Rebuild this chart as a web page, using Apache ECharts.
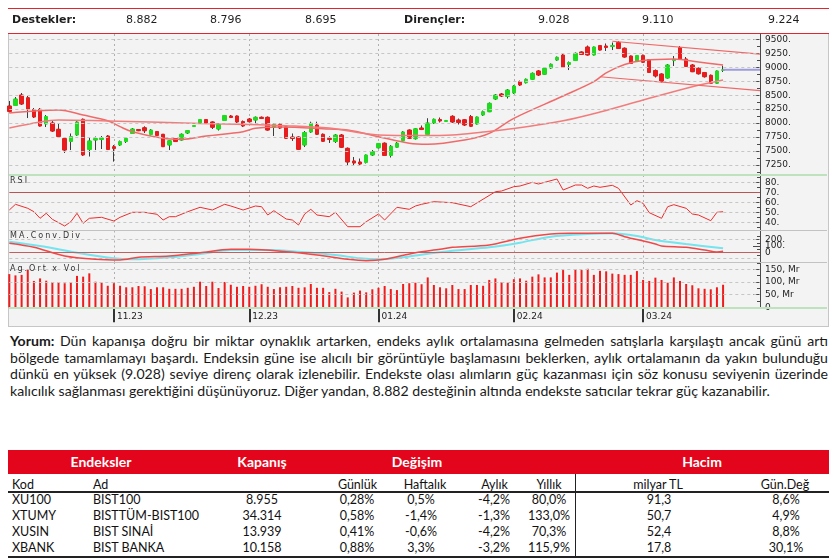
<!DOCTYPE html>
<html lang="tr">
<head>
<meta charset="utf-8">
<title>BIST100</title>
<script src="https://cdn.jsdelivr.net/npm/echarts@6/dist/echarts.min.js"></script>
<style>
html,body{margin:0;padding:0;}
body{width:840px;height:558px;position:relative;overflow:hidden;background:#ffffff;}
.hl{position:absolute;left:8px;width:821px;height:1px;background:#e0262e;}
.ht{position:absolute;top:13px;line-height:14px;font-family:"DejaVu Sans",sans-serif;font-size:11px;color:#1e1e1e;white-space:nowrap;}
.ht.b{font-weight:bold;}
#panel{position:absolute;left:8px;top:34px;width:819px;height:292px;background:#f3f3f3;border-left:1px solid #c6c6c6;border-right:1px solid #c6c6c6;border-bottom:1px solid #c6c6c6;}
#chart{position:absolute;left:0;top:0;width:840px;height:330px;}
.sep{position:absolute;left:9px;width:818px;}
.ptitle{position:absolute;left:10px;font-family:"DejaVu Sans",sans-serif;font-size:8px;letter-spacing:2px;color:#333;line-height:10px;white-space:nowrap;}
#para{position:absolute;left:10px;top:333px;width:818px;font-family:Lato,"Liberation Sans",sans-serif;color:#1a1a1a;font-size:14px;}
.pl{height:16.6px;line-height:16.6px;text-align:justify;text-align-last:justify;}
.pl.last{text-align:left;text-align-last:left;}
#para.measure .pl{white-space:nowrap;text-align:left;text-align-last:left;}
.cell{position:absolute;line-height:16px;height:16px;white-space:nowrap;font-family:Lato,"Liberation Sans",sans-serif;font-size:12.5px;color:#111;}
.th{color:#fff;font-weight:bold;font-size:14px;line-height:24px;height:24px;}
.rule{position:absolute;background:#222;}
</style>
</head>
<body>
<div class="hl" style="top:8px"></div>
<div class="hl" style="top:33px"></div>
<div id="panel"></div>
<div id="chart"></div>
<div class="sep" style="top:174px;height:2px;background:#bde2bd"></div>
<div class="sep" style="top:230px;height:1px;background:#c2c2c2"></div>
<div class="sep" style="top:262px;height:1px;background:#c2c2c2"></div>
<div class="sep" style="top:307px;height:2px;background:#bde2bd"></div>
<div class="ptitle" style="top:176px">RSI</div>
<div class="ptitle" style="top:231px">MA.Conv.Div</div>
<div class="ptitle" style="top:264px">Ag.Ort x Vol</div>
<div id="para"></div>
<script>
// ---------- header levels ----------
const supportLabel = 'Destekler:';
const supports = ['8.882', '8.796', '8.695'];
const resistanceLabel = 'Dirençler:';
const resistances = ['9.028', '9.110', '9.224'];

// ---------- trading days (categories) ----------
const daysOct23 = [9,10,11,12,13,16,17,18,19,20,23,24,25,26,27,30,31];
const daysNov23 = [1,2,3,6,7,8,9,10,13,14,15,16,17,20,21,22,23,24,27,28,29,30];
const daysDec23 = [1,4,5,6,7,8,11,12,13,14,15,18,19,20,21,22,25,26,27,28,29];
const daysJan24 = [2,3,4,5,8,9,10,11,12,15,16,17,18,19,22,23,24,25,26,29,30,31];
const daysFeb24 = [1,2,5,6,7,8,9,12,13,14,15,16,19,20,21,22,23,26,27,28,29];
const daysMar24 = [1,4,5,6,7,8,11,12,13,14,15,18,19,20,21,22,25,26,27,28];

// ---------- OHLC (BIST100) ----------
const opens = [8306,8315,8503,8455,8243,8247,7984,8002,7889,7724, 7671,7787,8068,7527,7697,7706,7769,7578,7608,7670,
 7814,7885,7917,7796,7850,7800,7608,7724,7697,7823, 7939,8002,8064,8020,7894,8047,8127,8127,8029,8073,
 8055,8104,8104,7925,7979,7935,7751,7751,7608,7841, 7966,7800,7728,7670,7787,7549,7322,7304,7295,7429,
 7558,7640,7420,7568,7684,7876,7720,7912,7796,8002, 8064,8029,8122,8055,8060,8118,7984,8145,8204,8431,
 8521,8476,8539,8741,8723,8784,8933,8874,8986,9129, 9219,9049,9120,9273,9362,9219,9389,9380,9371,9443,
 9340,9201,9103,9210,9138,8942,8879,8807,9120,9353, 9147,9040,8981,8906,8856,8713,8945];
const closes = [8208,8431,8342,8252,8109,7948,8118,7858,7760,7518, 7760,8020,7429,7680,7724,7733,7527,7545,7670,7728,
 7894,7864,7863,7876,7778,7578,7684,7670,7800,7867, 7957,8064,7993,7925,7979,8136,8100,8020,7948,8025,
 8104,8082,7876,7979,7912,7728,7724,7530,7832,7996, 7800,7674,7706,7787,7567,7304,7286,7268,7429,7491,
 7635,7420,7585,7640,7841,7728,7898,7885,8002,8068, 8038,8047,8020,8011,7966,7943,8109,8204,8354,8503,
 8485,8592,8664,8682,8784,8891,8861,8981,9053,9178, 9004,9085,9249,9228,9219,9362,9308,9353,9389,9335,
 9183,9067,9210,9089,8906,8843,8744,9040,9138,9147, 9013,8920,8883,8830,8713,8933,8955];
const lows = [8190,8306,8324,8091,8091,7939,7930,7841,7733,7465, 7518,7769,7411,7402,7518,7536,7518,7310,7590,7644,
 7805,7858,7823,7778,7769,7572,7518,7662,7688,7805, 7930,7984,7984,7894,7867,8038,8091,8002,7930,8011,
 7996,8073,7867,7769,7894,7715,7680,7518,7572,7823, 7787,7662,7644,7644,7554,7241,7232,7232,7277,7411,
 7545,7411,7384,7554,7671,7715,7706,7876,7778,7984, 8011,8020,8002,7975,7948,7930,7975,8127,8199,8413,
 8467,8440,8521,8664,8709,8771,8843,8861,8968,9112, 8995,8950,9112,9219,9210,9210,9300,9291,9308,9326,
 9174,9058,9094,9076,8897,8816,8727,8798,9022,9138, 9004,8915,8870,8816,8700,8700,8915];
const highs = [8396,8467,8539,8485,8270,8270,8145,8038,7984,7751, 7814,8038,8082,7751,7760,7769,7787,7608,7688,7751,
 7912,7894,7943,7894,7858,7805,7697,7733,7814,7876, 7966,8073,8073,8029,7993,8145,8145,8136,8047,8091,
 8118,8118,8118,7993,8002,7957,7814,7760,7858,8025, 8025,7814,7764,7805,7805,7563,7393,7366,7438,7518,
 7644,7653,7608,7662,7858,7885,7912,7957,8087,8082, 8100,8055,8140,8082,8073,8145,8118,8225,8369,8521,
 8539,8610,8682,8762,8798,8906,8950,8995,9067,9192, 9237,9103,9264,9282,9389,9371,9398,9425,9443,9470,
 9353,9210,9219,9228,9147,8960,8888,9058,9201,9380, 9183,9058,8995,8915,8870,8942,9028];

// ---------- moving averages, trend lines (read points: [day index, value]) ----------
const fastMA = [[0,8181],[8,8234],[12,8145],[16,8043],[18,7936],[20,7846],[25,7728],[28,7710],[32,7769],[38,7846],
 [40,7907],[44,7930],[52,7894],[55,7876],[60,7757],[65,7638],[68,7620],[74,7697],[78,7817],[82,8086],
 [90,8485],[95,8741],[97,8900],[100,9049],[103,9120],[108,9147],[112,9094],[116,9040]];
const slowMA = [[0,7912],[5,8020],[8,8055],[16,8038],[23,8020],[31,7993],[39,7975],[44,7957],[52,7912],[60,7787],
 [67,7778],[72,7787],[77,7841],[82,7903],[90,8043],[96,8199],[103,8413],[111,8652],[116,8771]];
const upperTrend = [[98,9465],[122,9235]];
const lowerTrend = [[96,8830],[122,8580]];
const lastPrice = [[116,8955],[122,8955]];

// ---------- RSI ----------
const rsi = [[0,52.7],[1,58.4],[3,54.4],[4,51],[5,44.4],[6,49.4],[7,43.4],[9,36.7],[10,41],[11,49.4],[12,39.4],[13,44.4],
 [15,45.4],[17,41.7],[18,45.4],[20,50.4],[22,50.4],[24,48.4],[25,42.7],[26,46],[27,46],[29,51],[31,55.4],[33,52.7],
 [35,58.4],[36,56.7],[38,52.7],[40,56.7],[41,56],[42,47.7],[43,52],[45,43.7],[46,42.7],[47,37.7],[48,48.7],[49,53.4],
 [50,47.7],[52,46],[53,50.4],[55,36],[57,36],[58,41],[60,48.7],[61,42.7],[63,55.4],[65,53.4],[66,56.7],[67,58.4],
 [69,61],[72,60],[75,56],[79,71],[80,71.7],[82,76],[83,76.7],[85,80.4],[86,78.7],[89,83.7],[90,72.7],[92,77.7],
 [93,77.7],[94,74.4],[95,76.7],[96,75.4],[98,77.4],[99,74.4],[101,57.7],[102,62],[103,59.4],[104,50],[106,44.4],
 [107,56],[108,58],[110,54.4],[111,48.7],[112,47.7],[114,42],[115,50.4],[116,51]];

// ---------- MACD ----------
const macd = [[0,142],[4,79],[9,-58],[14,-111],[18,-122],[21,-79],[26,-58],[31,-6],[36,47],[39,47],[45,9],[50,-43],
 [55,-111],[58,-133],[61,-111],[66,-6],[70,47],[72,79],[78,115],[83,221],[88,289],[91,300],[98,300],[100,247],
 [105,131],[106,100],[110,79],[113,36],[115,5],[116,18]];
const macdSignal = [[0,167],[5,100],[11,-6],[17,-95],[20,-111],[26,-79],[31,-27],[36,36],[42,36],[47,9],[53,-43],
 [57,-95],[60,-111],[64,-79],[66,-50],[72,25],[78,79],[83,152],[88,247],[94,289],[98,300],[102,258],[105,194],
 [110,131],[116,63]];

// ---------- volume (Mr) ----------
const volumes = [131,126,128,150,104,114,105,99,99,95, 97,124,121,134,101,97,85,95,85,79,
 79,84,83,72,79,79,73,73,73,77, 81,101,84,101,76,100,89,81,84,81,
 85,91,81,72,79,81,84,77,79,92, 77,77,60,73,62,39,58,66,59,71,
 77,84,72,68,92,95,97,91,118,88, 79,75,88,72,72,88,88,85,108,114,
 99,97,111,114,105,121,130,118,118,137, 147,128,150,147,152,128,144,142,133,131,
 128,128,143,108,104,117,108,97,118,104, 92,87,75,73,71,79,89];

// ---------- tick labels ----------
const mainTicks = [7250,7500,7750,8000,8250,8500,8750,9000,9250,9500];
const mainMinor = [7125,7375,7625,7875,8125,8375,8625,8875,9125,9375];
const rsiTicks = [40,50,60,70,80];
const rsiMinor = [35,45,55,65,75,85];
const rsiGrid = [40,50,60,80];
const rsiLevel = 70;
const macdTicks = [-100,0,100,200,300];
const macdMinor = [-50,50,150,250];
const macdGrid = [-100,200];
const volTicks = [0,50,100,150];
const volMinor = [25,75,125,175];
const volGrid = [50,100,150];

// ---------- table ----------
const tblCodes = ['XU100','XTUMY','XUSIN','XBANK'];
const tblNames = ['BIST100','BISTTÜM-BIST100','BIST SINAİ','BIST BANKA'];
const tblClose = ['8.955','34.314','13.939','10.158'];
const tblDaily = ['0,28%','0,58%','0,41%','0,88%'];
const tblWeekly = ['0,5%','-1,4%','-0,6%','3,3%'];
const tblMonthly = ['-4,2%','-1,3%','-4,2%','-3,2%'];
const tblYearly = ['80,0%','133,0%','70,3%','115,9%'];
const tblVolume = ['91,3','50,7','52,4','17,8'];
const tblVolShare = ['8,6%','4,9%','8,8%','30,1%'];

// ---------- comment ----------
const commentLines = [
 '<b>Yorum:</b> Dün kapanışa doğru bir miktar oynaklık artarken, endeks aylık ortalamasına gelmeden satışlarla karşılaştı ancak günü artı',
 'bölgede tamamlamayı başardı. Endeksin güne ise alıcılı bir görüntüyle başlamasını beklerken, aylık ortalamanın da yakın bulunduğu',
 'dünkü en yüksek (9.028) seviye direnç olarak izlenebilir. Endekste olası alımların güç kazanması için söz konusu seviyenin üzerinde',
 'kalıcılık sağlanması gerektiğini düşünüyoruz. Diğer yandan, 8.882 desteğinin altında endekste satıcılar tekrar güç kazanabilir.'
];

// ================= header =================
function addText(cls, txt, x) {
  const d = document.createElement('div');
  d.className = cls; d.textContent = txt; d.style.left = x + 'px';
  document.body.appendChild(d);
}
addText('ht b', supportLabel, 12);
[126, 210, 305].forEach((x, i) => addText('ht', supports[i], x));
addText('ht b', resistanceLabel, 404);
[538, 642, 768].forEach((x, i) => addText('ht', resistances[i], x));

// ================= comment paragraph =================
const para = document.getElementById('para');
para.classList.add('measure');
commentLines.forEach((h, i) => {
  const d = document.createElement('div');
  d.className = 'pl' + (i === commentLines.length - 1 ? ' last' : '');
  d.innerHTML = '<span>' + h + '</span>';
  para.appendChild(d);
});
(function fit() {
  const spans = para.querySelectorAll('span');
  const w = Array.from(spans).map(s => s.getBoundingClientRect().width);
  const base = 14;
  let fs = base * 760 / w[w.length - 1];
  const maxw = Math.max.apply(null, w.slice(0, -1));
  fs = Math.min(fs, base * 814 / maxw);
  para.style.fontSize = fs.toFixed(2) + 'px';
  para.classList.remove('measure');
})();

// ================= table =================
function cell(txt, x, yc, align, cls) {
  const d = document.createElement('div');
  d.className = 'cell' + (cls ? ' ' + cls : '');
  d.textContent = txt;
  d.style.top = (yc - (cls === 'th' ? 12 : 8)) + 'px';
  d.style.left = x + 'px';
  if (align === 'center') d.style.transform = 'translateX(-50%)';
  document.body.appendChild(d);
}
function rule(l, t, w, h, color) {
  const d = document.createElement('div');
  d.className = 'rule';
  Object.assign(d.style, {left: l + 'px', top: t + 'px', width: w + 'px', height: h + 'px'});
  if (color) d.style.background = color;
  document.body.appendChild(d);
}
rule(8, 450, 821, 24, '#e3051b');
cell('Endeksler', 101, 462, 'center', 'th');
cell('Kapanış', 262, 462, 'center', 'th');
cell('Değişim', 417, 462, 'center', 'th');
cell('Hacim', 702, 462, 'center', 'th');
cell('Kod', 12, 484.5, 'left');
cell('Ad', 93, 484.5, 'left');
cell('Günlük', 357.5, 484.5, 'center');
cell('Haftalık', 425, 484.5, 'center');
cell('Aylık', 494.5, 484.5, 'center');
cell('Yıllık', 549, 484.5, 'center');
cell('milyar TL', 658, 484.5, 'center');
cell('Gün.Değ', 785, 484.5, 'center');
rule(8, 491, 821, 2);
rule(575, 474, 1, 83);
rule(8, 556, 821, 2);
const rowY = [500, 516, 532, 548];
rowY.forEach((y, i) => {
  cell(tblCodes[i], 12, y, 'left');
  cell(tblNames[i], 93, y, 'left');
  cell(tblClose[i], 262, y, 'center');
  cell(tblDaily[i], 357, y, 'center');
  cell(tblWeekly[i], 421, y, 'center');
  cell(tblMonthly[i], 494, y, 'center');
  cell(tblYearly[i], 549, y, 'center');
  cell(tblVolume[i], 659, y, 'center');
  cell(tblVolShare[i], 786, y, 'center');
});

// ================= chart =================
const pad = n => (n < 10 ? '0' : '') + n;
const monthGroups = [['10','23',daysOct23],['11','23',daysNov23],['12','23',daysDec23],
                     ['01','24',daysJan24],['02','24',daysFeb24],['03','24',daysMar24]];
const categories = [];
monthGroups.forEach(([m, y, days]) => days.forEach(d => categories.push(pad(d) + '.' + m + '.' + y)));
const monthStart = (idx) => idx > 0 && categories[idx].slice(3, 5) !== categories[idx - 1].slice(3, 5);

const candleData = opens.map((o, i) => [o, closes[i], lows[i], highs[i]]);
const bodyData = opens.map((o, i) => [o, closes[i], Math.min(o, closes[i]), Math.max(o, closes[i])]);

const grids = [
  {top: 34, height: 140},
  {top: 175, height: 55},
  {top: 230.5, height: 31.5},
  {top: 262, height: 45.3}
].map(g => Object.assign({left: 9.3, right: 80, show: false, containLabel: false, outerBoundsMode: 'none'}, g));

const xAxes = [0, 1, 2, 3].map(g => ({
  type: 'category', gridIndex: g, data: categories, boundaryGap: false,
  axisLine: {show: false},
  axisTick: {show: g === 3, interval: monthStart, alignWithLabel: true, length: 15, inside: false,
             lineStyle: {color: '#333', width: 2}},
  axisLabel: {show: g === 3, interval: monthStart, formatter: v => v.slice(3), align: 'left', margin: 5,
              padding: [0, 0, 0, 3], color: '#222', fontSize: 9, fontFamily: 'DejaVu Sans'},
  splitLine: {show: true, interval: monthStart, lineStyle: {color: '#b0b0b0', width: 1, type: [2, 3]}}
}));

function yPair(g, min, max, major, minor, fmt) {
  return [{
    type: 'value', gridIndex: g, position: 'right', min: min, max: max,
    axisLine: {show: true, onZero: false, lineStyle: {color: '#4a4a4a', width: 1}},
    axisTick: {show: true, inside: true, length: 7, customValues: major, lineStyle: {color: '#4a4a4a'}},
    axisLabel: {show: true, customValues: major, formatter: fmt, margin: 5, color: '#222', fontSize: 9,
                fontFamily: 'DejaVu Sans', hideOverlap: false},
    splitLine: {show: false}, minorTick: {show: false}, minorSplitLine: {show: false}
  }, {
    type: 'value', gridIndex: g, position: 'right', min: min, max: max,
    axisLine: {show: false},
    axisTick: {show: true, inside: true, length: 3, customValues: minor, lineStyle: {color: '#4a4a4a'}},
    axisLabel: {show: false}, splitLine: {show: false}
  }];
}
const dotFmt = v => (v === 0 ? '0' : v + '.');
const yAxes = [].concat(
  yPair(0, 7089, 9595, mainTicks, mainMinor, dotFmt),
  yPair(1, 32.7, 87.7, rsiTicks, rsiMinor, dotFmt),
  yPair(2, -153, 344, macdTicks, macdMinor, dotFmt),
  yPair(3, 0, 178.8, volTicks, volMinor, v => (v === 0 ? '0' : v + ', Mr'))
);

const dashed = {color: '#c6c6c6', type: [3, 3], width: 1};
function gridLines(values, extra) {
  return {
    silent: true, symbol: ['none', 'none'], animation: false, label: {show: false},
    lineStyle: dashed,
    data: values.map(v => ({yAxis: v})).concat(extra || [])
  };
}
const lineBase = {type: 'line', symbol: 'none', showSymbol: false, silent: true, animation: false};

const option = {
  animation: false,
  backgroundColor: 'transparent',
  grid: grids,
  xAxis: xAxes,
  yAxis: yAxes,
  series: [
    {type: 'candlestick', name: 'wick', xAxisIndex: 0, yAxisIndex: 0, data: candleData, barWidth: 2, clip: false,
     silent: true, z: 2,
     itemStyle: {color: '#3c3c3c', color0: '#3c3c3c', borderColor: '#3c3c3c', borderColor0: '#3c3c3c', borderWidth: 1},
     markLine: gridLines(mainTicks)},
    {type: 'candlestick', name: 'body', xAxisIndex: 0, yAxisIndex: 0, data: bodyData, barWidth: 4, clip: false,
     silent: true, z: 3,
     itemStyle: {color: '#20dc20', color0: '#e81c1c', borderColor: '#20dc20', borderColor0: '#e81c1c', borderWidth: 1}},
    Object.assign({}, lineBase, {xAxisIndex: 0, yAxisIndex: 0, data: fastMA, smooth: 0.35, z: 4,
      lineStyle: {color: '#f06a6a', width: 1.5}}),
    Object.assign({}, lineBase, {xAxisIndex: 0, yAxisIndex: 0, data: slowMA, smooth: 0.35, z: 4,
      lineStyle: {color: '#f27c7c', width: 1.5}}),
    Object.assign({}, lineBase, {xAxisIndex: 0, yAxisIndex: 0, data: upperTrend, z: 4,
      lineStyle: {color: '#f06868', width: 1.2}}),
    Object.assign({}, lineBase, {xAxisIndex: 0, yAxisIndex: 0, data: lowerTrend, z: 4,
      lineStyle: {color: '#f06868', width: 1.2}}),
    Object.assign({}, lineBase, {xAxisIndex: 0, yAxisIndex: 0, data: lastPrice, z: 4,
      lineStyle: {color: '#9c9cdc', width: 2}}),
    Object.assign({}, lineBase, {xAxisIndex: 1, yAxisIndex: 2, data: rsi, z: 4,
      lineStyle: {color: '#ee2c2c', width: 1},
      markLine: gridLines(rsiGrid, [{yAxis: rsiLevel, lineStyle: {color: '#b85454', type: 'solid', width: 1}}])}),
    Object.assign({}, lineBase, {xAxisIndex: 2, yAxisIndex: 4, data: macdSignal, smooth: 0.3, z: 4,
      lineStyle: {color: '#74e4ee', width: 2},
      markLine: gridLines(macdGrid, [{yAxis: 0, lineStyle: {color: '#c06060', type: 'solid', width: 1}}])}),
    Object.assign({}, lineBase, {xAxisIndex: 2, yAxisIndex: 4, data: macd, smooth: 0.3, z: 5,
      lineStyle: {color: '#f04848', width: 1.5}}),
    {type: 'bar', xAxisIndex: 3, yAxisIndex: 6, data: volumes, barWidth: 2, silent: true, z: 3,
     itemStyle: {color: '#ee1c1c'}, markLine: gridLines(volGrid)}
  ]
};
const chart = echarts.init(document.getElementById('chart'), null, {renderer: 'canvas'});
chart.setOption(option);
</script>
</body>
</html>
